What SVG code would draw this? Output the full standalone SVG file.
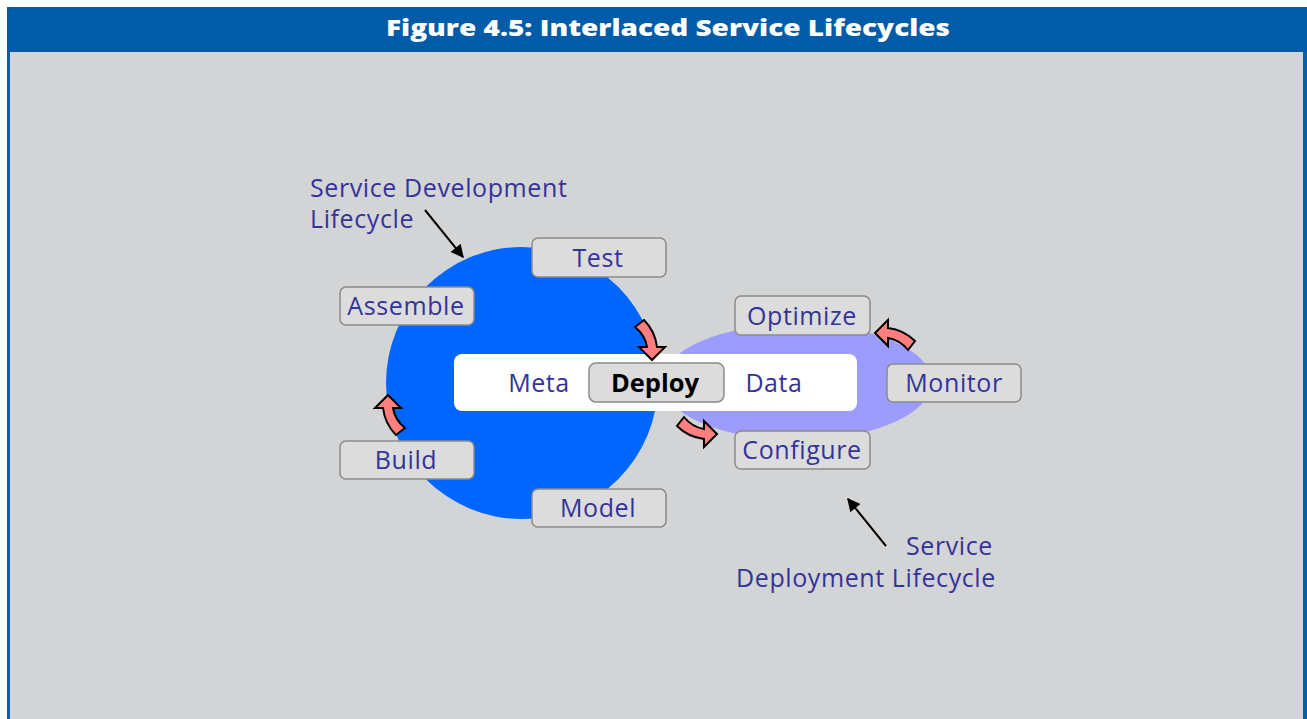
<svg xmlns="http://www.w3.org/2000/svg" width="1307" height="719" viewBox="0 0 1307 719">
  <style>
    .lbl { font-family: "Open Sans", "Noto Sans", sans-serif; font-size: 25px; letter-spacing: 0.6px; fill: #333399; }
    .box { fill: #dcdcdc; stroke: #8a8a8a; stroke-width: 1.5; }
    .flow { fill: #ff7f7f; stroke: #000; stroke-width: 2; stroke-linejoin: miter; }
    .lead { stroke: #000; stroke-width: 2; fill: none; }
  </style>
  <defs>
    <!-- curved block arrow: tip at origin pointing up, shaft bending down-right -->
    <path id="bend" d="M0,0 L13,13 L5,13 Q7,25 17,33 L8,40 Q-3,29 -5,13 L-13,13 Z"/>
    <marker id="head" viewBox="0 0 10 10" refX="9" refY="5" markerWidth="15" markerHeight="13" orient="auto" markerUnits="userSpaceOnUse">
      <path d="M0,0 L10,5 L0,10 Z" fill="#000"/>
    </marker>
  </defs>

  <!-- frame -->
  <rect x="0" y="0" width="1307" height="719" fill="#ffffff"/>
  <rect x="7" y="52" width="1299" height="667" fill="#d3d4d6"/>
  <rect x="7" y="52" width="3" height="667" fill="#0a5fa8"/>
  <rect x="1303" y="52" width="4" height="667" fill="#0a5fa8"/>
  <rect x="7" y="7" width="1300" height="45" fill="#005ca8"/>
  <text x="668" y="36" text-anchor="middle" textLength="564" lengthAdjust="spacingAndGlyphs" font-family="'Open Sans', 'Noto Sans', sans-serif" font-size="23" font-weight="800" fill="#ffffff">Figure 4.5:  Interlaced Service Lifecycles</text>

  <!-- lifecycle backdrops -->
  <g id="dev-cycle">
    <circle cx="522" cy="383" r="136" fill="#0066ff"/>
  </g>
  <g id="deploy-cycle">
    <ellipse cx="797" cy="382" rx="135" ry="58" fill="#9c9cff"/>
  </g>

  <!-- shared meta data band -->
  <g id="metadata">
    <rect x="454" y="354" width="403" height="57" rx="8" fill="#ffffff"/>
    <text class="lbl" x="539" y="392" text-anchor="middle">Meta</text>
    <text class="lbl" x="774" y="392" text-anchor="middle">Data</text>
  </g>

  <g id="deploy">
    <rect class="box" x="589" y="363" width="135" height="39" rx="7"/>
    <text x="655" y="392" text-anchor="middle" font-family="'Open Sans', 'Noto Sans', sans-serif" font-size="25.5" font-weight="bold" fill="#000">Deploy</text>
  </g>

  <g id="test">
    <rect class="box" x="532" y="238" width="134" height="39" rx="6"/>
    <text class="lbl" x="598" y="267" text-anchor="middle">Test</text>
  </g>
  <g id="assemble">
    <rect class="box" x="340" y="287" width="134" height="38" rx="6"/>
    <text class="lbl" x="406" y="315" text-anchor="middle">Assemble</text>
  </g>
  <g id="build">
    <rect class="box" x="340" y="441" width="134" height="38" rx="6"/>
    <text class="lbl" x="406" y="469" text-anchor="middle">Build</text>
  </g>
  <g id="model">
    <rect class="box" x="532" y="489" width="134" height="38" rx="6"/>
    <text class="lbl" x="598" y="517" text-anchor="middle">Model</text>
  </g>
  <g id="optimize">
    <rect class="box" x="735" y="296" width="135" height="39" rx="6"/>
    <text class="lbl" x="802" y="325" text-anchor="middle">Optimize</text>
  </g>
  <g id="monitor">
    <rect class="box" x="887" y="364" width="134" height="38" rx="6"/>
    <text class="lbl" x="954" y="392" text-anchor="middle">Monitor</text>
  </g>
  <g id="configure">
    <rect class="box" x="735" y="431" width="135" height="38" rx="6"/>
    <text class="lbl" x="802" y="459" text-anchor="middle">Configure</text>
  </g>

  <!-- captions -->
  <g id="dev-caption">
    <text class="lbl" x="310" y="197">Service Development</text>
    <text class="lbl" x="310" y="228">Lifecycle</text>
  </g>
  <g id="deploy-caption">
    <text class="lbl" x="993" y="555" text-anchor="end">Service</text>
    <text class="lbl" x="736" y="587">Deployment Lifecycle</text>
  </g>

  <!-- connectors -->
  <g id="connectors">
    <use href="#bend" class="flow" transform="translate(388,395)"/>
    <use href="#bend" class="flow" transform="translate(652,360) rotate(180)"/>
    <use href="#bend" class="flow" transform="translate(717,434) rotate(90) scale(-1,1)"/>
    <use href="#bend" class="flow" transform="translate(875,333) rotate(-90) scale(-1,1)"/>
    <line class="lead" x1="425" y1="210" x2="463" y2="257" marker-end="url(#head)"/>
    <line class="lead" x1="886" y1="546" x2="848" y2="499" marker-end="url(#head)"/>
  </g>
</svg>
